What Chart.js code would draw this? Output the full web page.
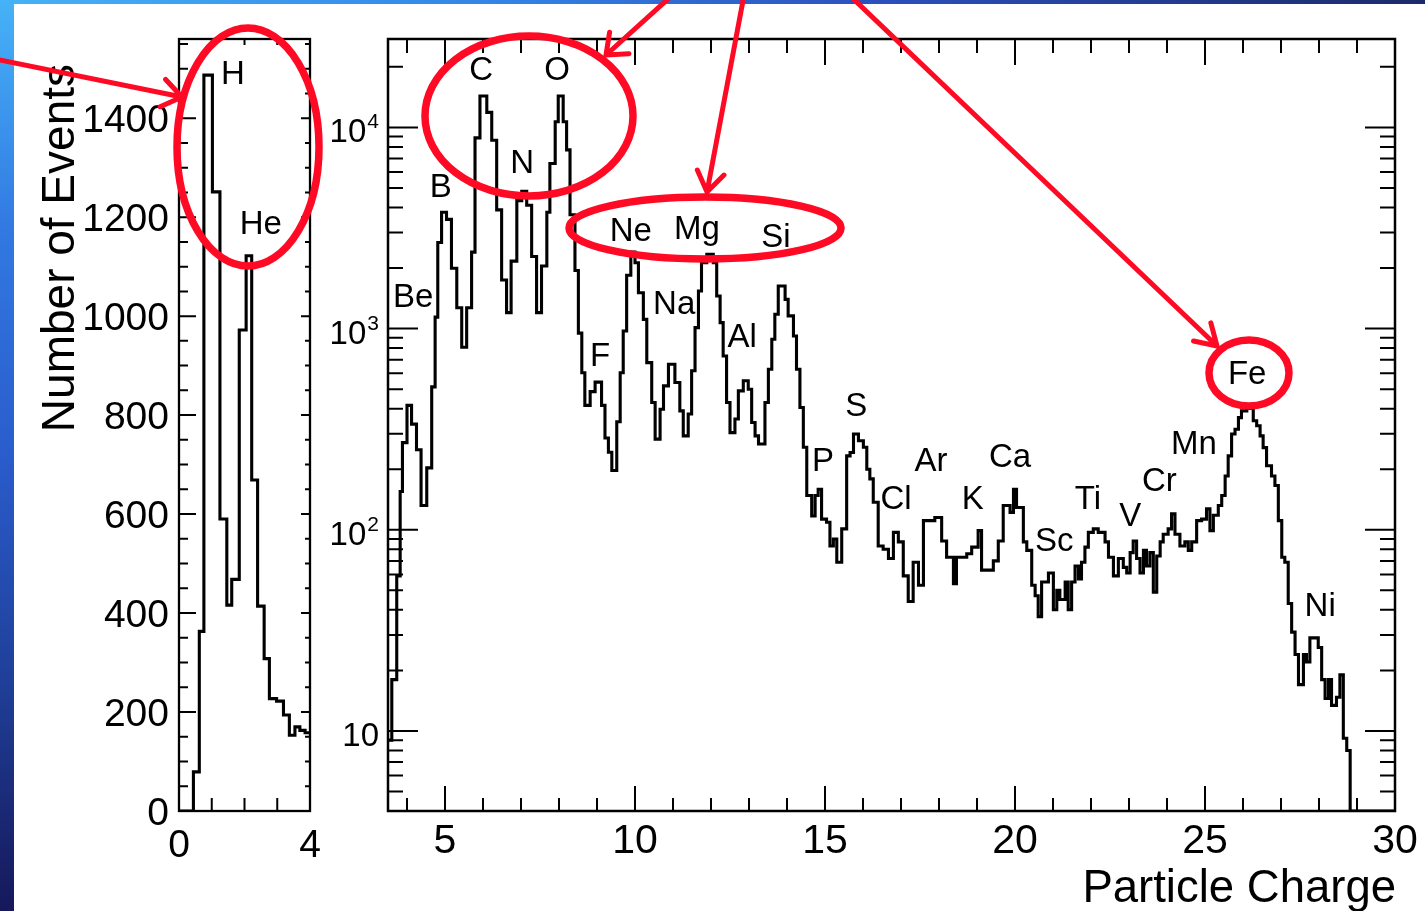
<!DOCTYPE html>
<html>
<head>
<meta charset="utf-8">
<title>Particle charge spectrum</title>
<script src="https://cdn.jsdelivr.net/npm/chart.js@4.4.1/dist/chart.umd.min.js"></script>
<style>
  body { margin: 0; width: 1425px; height: 911px; overflow: hidden; position: relative; background: #fff; }
  #edgeLeft { position: absolute; left: 0; top: 0; width: 14px; height: 911px;
    background: linear-gradient(to bottom, #46b2f7 0%, #3279e2 25%, #2a5ccc 50%, #1f3f98 75%, #16185a 100%); }
  #edgeTop { position: absolute; left: 0; top: 0; width: 1425px; height: 4px;
    background: linear-gradient(to right, #46b2f7 0%, #3384e6 35%, #2c52c0 60%, #1b2a6a 100%); }
  canvas { position: absolute; left: 0; top: 0; }
</style>
</head>
<body>
<div id="edgeLeft"></div>
<div id="edgeTop"></div>
<canvas id="lightChart" width="1425" height="911"></canvas>
<canvas id="heavyChart" width="1425" height="911"></canvas>
<script>
// H / He panel: bin edges and counts (linear scale)
const lightEdges = [0, 0.44, 0.62, 0.76, 1.02, 1.25, 1.46, 1.61, 1.84, 2.05, 2.22,
  2.40, 2.60, 2.76, 2.98, 3.19, 3.37, 3.54, 3.69, 3.85, 4.0];
const lightEvents = [0, 79, 363, 1487, 1251, 590, 416, 468, 972, 1122,
  669, 414, 308, 227, 222, 194, 153, 170, 163, 158];
const lightYTicks = [0, 200, 400, 600, 800, 1000, 1200, 1400];
const lightXTicks = [0, 4];

// Z >= 4 panel: bin edges and counts (log scale), empty bins are 0
const heavyEdges = [
  3.50, 3.60, 3.73, 3.82, 3.88, 4.00, 4.12, 4.25, 4.37, 4.52, 4.65, 4.74, 4.81, 4.91,
  5.04, 5.17, 5.31, 5.44, 5.57, 5.70, 5.79, 5.92, 6.10, 6.23, 6.36, 6.49, 6.62, 6.74,
  6.89, 7.02, 7.15, 7.28, 7.41, 7.54, 7.68, 7.76, 7.90, 7.98, 8.11, 8.20, 8.29, 8.42,
  8.51, 8.60, 8.68, 8.82, 8.95, 9.12, 9.21, 9.30, 9.39, 9.52, 9.61, 9.69, 9.78, 9.89,
  10.00, 10.09, 10.22, 10.31, 10.44, 10.53, 10.66, 10.75, 10.88, 11.05, 11.18, 11.27,
  11.40, 11.49, 11.58, 11.67, 11.75, 11.89, 12.06, 12.15, 12.24, 12.32, 12.41, 12.50,
  12.63, 12.72, 12.85, 12.98, 13.07, 13.16, 13.25, 13.42, 13.51, 13.60, 13.68, 13.77,
  13.95, 14.03, 14.17, 14.25, 14.34, 14.43, 14.52, 14.65, 14.74, 14.82, 14.91, 15.04,
  15.13, 15.22, 15.31, 15.44, 15.57, 15.66, 15.75, 15.88, 16.01, 16.10, 16.18, 16.27,
  16.40, 16.53, 16.67, 16.80, 16.93, 17.06, 17.19, 17.32, 17.46, 17.59, 17.72, 17.89,
  18.07, 18.20, 18.38, 18.46, 18.60, 18.73, 18.86, 19.03, 19.12, 19.25, 19.43, 19.56,
  19.69, 19.87, 19.96, 20.04, 20.22, 20.31, 20.44, 20.53, 20.61, 20.70, 20.88, 21.01,
  21.10, 21.18, 21.32, 21.40, 21.49, 21.58, 21.67, 21.75, 21.84, 21.93, 22.06, 22.19,
  22.37, 22.46, 22.59, 22.72, 22.85, 22.94, 23.03, 23.11, 23.20, 23.29, 23.38, 23.46,
  23.55, 23.64, 23.73, 23.82, 23.90, 24.03, 24.12, 24.21, 24.34, 24.47, 24.56, 24.65,
  24.78, 24.91, 25.04, 25.13, 25.22, 25.35, 25.44, 25.53, 25.61, 25.70, 25.79, 25.88,
  25.96, 26.10, 26.27, 26.36, 26.45, 26.53, 26.62, 26.75, 26.84, 26.93, 27.02, 27.10,
  27.19, 27.28, 27.37, 27.46, 27.59, 27.67, 27.76, 27.85, 27.98, 28.07, 28.16, 28.25,
  28.33, 28.46, 28.55, 28.64, 28.73, 28.82, 30.0];
const heavyEvents = [
  9, 18, 59, 155, 271, 415, 335, 250, 132, 203, 513, 1140, 2680, 3785,
  3490, 1995, 1270, 807, 1270, 2400, 8870, 14330, 11880, 8630, 3890, 1745, 1200, 2163,
  4325, 4810, 4100, 2280, 1200, 2045, 3785, 6610, 10670, 14330, 10670, 7730, 3680, 1945,
  949, 603, 415, 486, 542, 415, 286, 243, 197, 344, 603, 973, 1841, 2400,
  2125, 1507, 1111, 677, 429, 282, 397, 519, 665, 539, 390, 293,
  376, 617, 1011, 1537, 2125, 2338, 2125, 1452, 1070, 731, 429, 304,
  355, 490, 550, 499, 341, 293, 267, 429, 628, 885, 1178, 1627,
  1397, 1156, 919, 628, 405, 257, 148, 117, 148, 159, 113, 109,
  83, 90, 69, 101, 233, 242, 299, 277, 257, 200, 179, 137,
  83, 80, 72, 97, 87, 59, 44, 69, 53, 111, 111, 115,
  88, 73, 54, 73, 73, 76, 82, 99, 63, 63, 70, 88,
  132, 122, 159, 129, 87, 79, 53, 47, 37, 55, 61, 40,
  50, 45, 55, 40, 55, 66, 57, 69, 82, 97, 101, 97,
  87, 73, 59, 72, 65, 61, 77, 88, 72, 61, 79, 66,
  77, 49, 74, 87, 95, 101, 120, 95, 83, 87, 79, 87,
  111, 113, 127, 99, 118, 132, 148, 185, 233, 299, 316, 361,
  390, 401, 348, 329, 293, 256, 208, 185, 166, 111, 73, 69,
  43, 31, 24, 17, 24, 22, 29, 29, 26, 18, 14.5, 18,
  13.4, 14.7, 19, 9.2, 8, 0];
const heavyXTicks = [5, 10, 15, 20, 25, 30];
const heavyYTicks = [10, 100, 1000, 10000];

// element names written next to the peaks
const lightTags = ['H', 'He'];
const heavyTags = ['Be', 'B', 'C', 'N', 'O', 'F', 'Ne', 'Na', 'Mg', 'Al', 'Si', 'P', 'S',
  'Cl', 'Ar', 'K', 'Ca', 'Sc', 'Ti', 'V', 'Cr', 'Mn', 'Fe', 'Ni'];

// where each tag sits, in axis units (charge, events at the text baseline)
const lightTagAt = [[1.65, 1469], [2.50, 1166]];
const heavyTagAt = [[4.16, 1275], [4.89, 4530], [5.95, 17260], [7.03, 5965], [7.95, 17260],
  [9.08, 649], [9.89, 2710], [11.03, 1177], [11.63, 2773], [12.82, 807], [13.71, 2531],
  [14.95, 196], [15.82, 367], [16.87, 127], [17.79, 196], [18.89, 127], [19.87, 205],
  [21.03, 78.5], [21.92, 127], [23.03, 104], [23.80, 156], [24.71, 238], [26.11, 529],
  [28.03, 37.3]];

const FONT = '"Liberation Sans", Arial, Helvetica, sans-serif';
const RED = '#fe0a24';

// one point per bin edge; the last edge repeats the last count so the final step is drawn
function histPoints(edges, counts, floor) {
  const pts = counts.map((c, i) => ({ x: edges[i], y: c > 0 ? c : floor }));
  pts.push({ x: edges[edges.length - 1], y: pts[pts.length - 1].y });
  return pts;
}

function histDataset(points) {
  return {
    data: points,
    stepped: 'before',
    borderColor: '#000',
    borderWidth: 3.1,
    borderJoinStyle: 'miter',
    pointRadius: 0,
    fill: false,
    tension: 0
  };
}

function tick(ctx, x0, y0, x1, y1) {
  ctx.moveTo(x0, y0);
  ctx.lineTo(x1, y1);
}

const lightFrame = {
  id: 'lightFrame',
  afterDatasetsDraw(chart) {
    const { ctx, chartArea: a, scales: { x, y } } = chart;
    ctx.save();
    ctx.strokeStyle = '#000';
    ctx.lineWidth = 2.3;
    ctx.strokeRect(a.left, a.top, a.right - a.left, a.bottom - a.top);

    ctx.lineWidth = 2;
    ctx.beginPath();
    for (let v = 0; v < y.max; v += 50) {
      const py = y.getPixelForValue(v);
      const major = v % 200 === 0;
      tick(ctx, a.left, py, a.left + (major ? 17 : 9), py);
      tick(ctx, a.right, py, a.right - (major ? 9 : 5), py);
    }
    for (let v = 1; v < 4; v++) {
      const px = x.getPixelForValue(v);
      tick(ctx, px, a.bottom, px, a.bottom - 13);
      tick(ctx, px, a.top, px, a.top + 6);
    }
    ctx.stroke();

    ctx.fillStyle = '#000';
    ctx.font = '39px ' + FONT;
    ctx.textAlign = 'right';
    lightYTicks.forEach(v => ctx.fillText(String(v), a.left - 10, y.getPixelForValue(v) + 14));
    ctx.textAlign = 'center';
    lightXTicks.forEach(v => ctx.fillText(String(v), x.getPixelForValue(v), a.bottom + 46));

    ctx.font = '33px ' + FONT;
    lightTags.forEach((t, i) => {
      const [cx, cy] = lightTagAt[i];
      ctx.fillText(t, x.getPixelForValue(cx), y.getPixelForValue(cy));
    });

    // y axis title
    ctx.save();
    ctx.translate(74, 64);
    ctx.rotate(-Math.PI / 2);
    ctx.font = '46px ' + FONT;
    ctx.textAlign = 'right';
    ctx.fillText('Number of Events', 0, 0);
    ctx.restore();
    ctx.restore();
  }
};

function ring(ctx, cx, cy, rx, ry) {
  ctx.beginPath();
  ctx.ellipse(cx, cy, rx, ry, 0, 0, 2 * Math.PI);
  ctx.stroke();
}

function arrow(ctx, x0, y0, x1, y1, len, spread) {
  const ang = Math.atan2(y0 - y1, x0 - x1);
  ctx.beginPath();
  ctx.moveTo(x0, y0);
  ctx.lineTo(x1, y1);
  ctx.moveTo(x1 + len * Math.cos(ang - spread), y1 + len * Math.sin(ang - spread));
  ctx.lineTo(x1, y1);
  ctx.lineTo(x1 + len * Math.cos(ang + spread), y1 + len * Math.sin(ang + spread));
  ctx.stroke();
}

const heavyFrame = {
  id: 'heavyFrame',
  afterDatasetsDraw(chart) {
    const { ctx, chartArea: a, scales: { x, y } } = chart;
    ctx.save();
    ctx.strokeStyle = '#000';
    ctx.lineWidth = 2.5;
    ctx.strokeRect(a.left, a.top, a.right - a.left, a.bottom - a.top);

    ctx.lineWidth = 2;
    ctx.beginPath();
    for (let v = Math.ceil(x.min); v < x.max; v++) {
      const px = x.getPixelForValue(v);
      const major = v % 5 === 0;
      tick(ctx, px, a.bottom, px, a.bottom - (major ? 25 : 13));
      tick(ctx, px, a.top, px, a.top + (major ? 26 : 14));
    }
    for (let dec = 1; dec <= 10000; dec *= 10) {
      for (let m = 1; m < 10; m++) {
        const v = m * dec;
        if (v <= y.min || v >= y.max) continue;
        const py = y.getPixelForValue(v);
        const len = m === 1 ? 30 : 15;
        tick(ctx, a.left, py, a.left + len, py);
        tick(ctx, a.right, py, a.right - len, py);
      }
    }
    ctx.stroke();

    ctx.fillStyle = '#000';
    ctx.font = '41px ' + FONT;
    ctx.textAlign = 'center';
    heavyXTicks.forEach(v => ctx.fillText(String(v), x.getPixelForValue(v), a.bottom + 42));

    ctx.textAlign = 'right';
    heavyYTicks.forEach(v => {
      const py = y.getPixelForValue(v);
      const exp = Math.round(Math.log10(v));
      const xr = a.left - 9;
      if (exp > 1) {
        ctx.font = '21px ' + FONT;
        ctx.fillText(String(exp), xr, py + 1);
        const w = ctx.measureText(String(exp)).width;
        ctx.font = '33px ' + FONT;
        ctx.fillText('10', xr - w - 1, py + 15);
      } else {
        ctx.font = '33px ' + FONT;
        ctx.fillText('10', xr, py + 15);
      }
    });

    ctx.font = '45.5px ' + FONT;
    ctx.fillText('Particle Charge', a.right + 1, 902);

    ctx.font = '33px ' + FONT;
    ctx.textAlign = 'center';
    heavyTags.forEach((t, i) => {
      const [cx, cy] = heavyTagAt[i];
      ctx.fillText(t, x.getPixelForValue(cx), y.getPixelForValue(cy));
    });
    ctx.restore();
  },
  afterDraw(chart) {
    // red highlight rings and arrows over both panels
    const ctx = chart.ctx;
    ctx.save();
    ctx.strokeStyle = RED;
    ctx.lineCap = 'round';
    ctx.lineJoin = 'round';
    ctx.lineWidth = 7.5;
    ring(ctx, 248, 147, 71, 119);
    ring(ctx, 529, 116, 104, 80);
    ring(ctx, 705, 228, 136, 31);
    ring(ctx, 1249, 373, 40, 33);
    ctx.lineWidth = 5;
    arrow(ctx, -10, 58, 182, 97, 24, 0.62);
    arrow(ctx, 678, -10, 606, 55, 23, 0.68);
    arrow(ctx, 745, -10, 707, 192, 24, 0.6);
    arrow(ctx, 844, -10, 1217, 346, 24, 0.55);
    ctx.restore();
  }
};

const baseOptions = (pad) => ({
  responsive: false,
  animation: false,
  events: [],
  layout: { padding: pad },
  plugins: { legend: { display: false }, tooltip: { enabled: false } }
});

new Chart(document.getElementById('lightChart'), {
  type: 'line',
  data: { datasets: [histDataset(histPoints(lightEdges, lightEvents, 0))] },
  options: Object.assign(baseOptions({ left: 179, top: 39, right: 1425 - 310, bottom: 911 - 811 }), {
    scales: {
      x: { type: 'linear', min: 0, max: 4, display: false },
      y: { type: 'linear', min: 0, max: 1560, display: false }
    }
  }),
  plugins: [lightFrame]
});

new Chart(document.getElementById('heavyChart'), {
  type: 'line',
  data: { datasets: [histDataset(histPoints(heavyEdges, heavyEvents, 4))] },
  options: Object.assign(baseOptions({ left: 388, top: 39, right: 1425 - 1395, bottom: 911 - 811 }), {
    scales: {
      x: { type: 'linear', min: 3.5, max: 30, display: false },
      y: { type: 'logarithmic', min: 4, max: 27500, display: false }
    }
  }),
  plugins: [heavyFrame]
});
</script>
</body>
</html>
